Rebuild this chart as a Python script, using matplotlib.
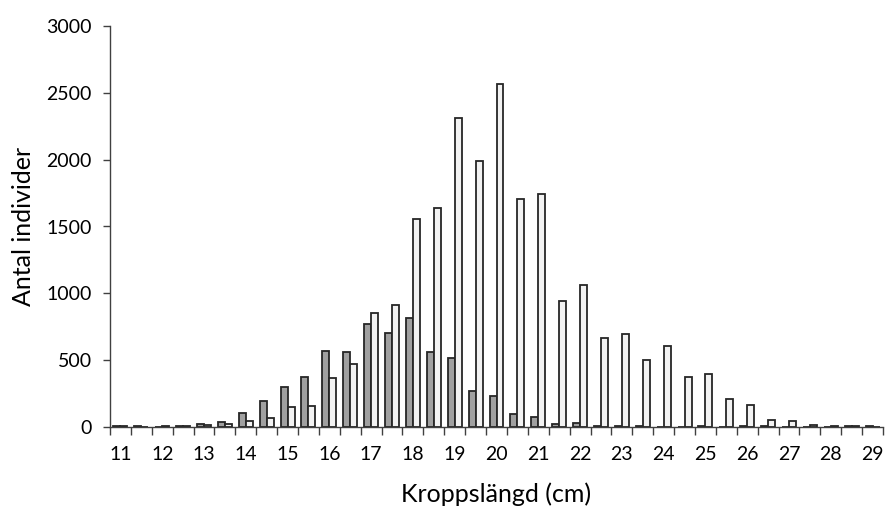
import numpy as np
import matplotlib
matplotlib.use("Agg")
import matplotlib.pyplot as plt

plt.rcParams['font.family'] = ['Lato', 'DejaVu Sans']

# kroppslängd (cm), klasser om 0.5 cm
langd = [11, 11.5, 12, 12.5, 13, 13.5, 14, 14.5, 15, 15.5, 16, 16.5, 17, 17.5,
         18, 18.5, 19, 19.5, 20, 20.5, 21, 21.5, 22, 22.5, 23, 23.5, 24, 24.5,
         25, 25.5, 26, 26.5, 27, 27.5, 28, 28.5, 29]
grupp_gra = [5, 5, 0, 5, 22, 37, 102, 192, 301, 374, 568, 561, 768, 706,
             815, 563, 514, 272, 234, 100, 75, 22, 27, 4, 4, 4, 3, 2,
             4, 3, 4, 4, 0, 0, 0, 4, 5]
grupp_vit = [5, 0, 5, 5, 15, 22, 42, 67, 147, 160, 364, 471, 850, 910,
             1556, 1641, 2311, 1990, 2566, 1705, 1740, 940, 1065, 666, 696, 500, 605, 374,
             396, 209, 165, 55, 42, 12, 5, 5, 0]
tick_etiketter = [str(v) for v in range(11, 30)]

fig = plt.figure(figsize=(8.86, 5.07), dpi=100)
ax = fig.add_axes([110/886, 80/507, 773/886, 401/507])

x = np.arange(len(langd))
w = 0.335
kant = '#262626'
ax.bar(x - w/2, grupp_gra, width=w, color='#a0a0a0', edgecolor=kant, linewidth=1.3)
ax.bar(x + w/2, grupp_vit, width=w, color='#f2f2f2', edgecolor=kant, linewidth=1.3)

ax.set_xlim(-0.5, len(langd) - 0.5)
ax.set_ylim(0, 3000)
ax.set_yticks(range(0, 3001, 500))

# ticks at category borders, labels at whole cm
ax.set_xticks(np.arange(len(langd) + 1) - 0.5)
ax.set_xticklabels([])
ax.set_xticks(x[::2], minor=True)
ax.set_xticklabels(tick_etiketter, minor=True)
ax.tick_params(axis='x', which='major', direction='out', length=6, width=1, color='#404040')
ax.tick_params(axis='x', which='minor', length=0, pad=14, labelsize=14)
ax.tick_params(axis='y', direction='out', length=5, width=1, color='#404040', labelsize=14, pad=8)

for s in ['top', 'right']:
    ax.spines[s].set_visible(False)
for s in ['left', 'bottom']:
    ax.spines[s].set_color('#404040')
    ax.spines[s].set_linewidth(1)

ax.set_xlabel("Kroppslängd (cm)", fontsize=18, labelpad=14)
ax.set_ylabel("Antal individer", fontsize=18, labelpad=8)

fig.savefig("out.png", dpi=100)
